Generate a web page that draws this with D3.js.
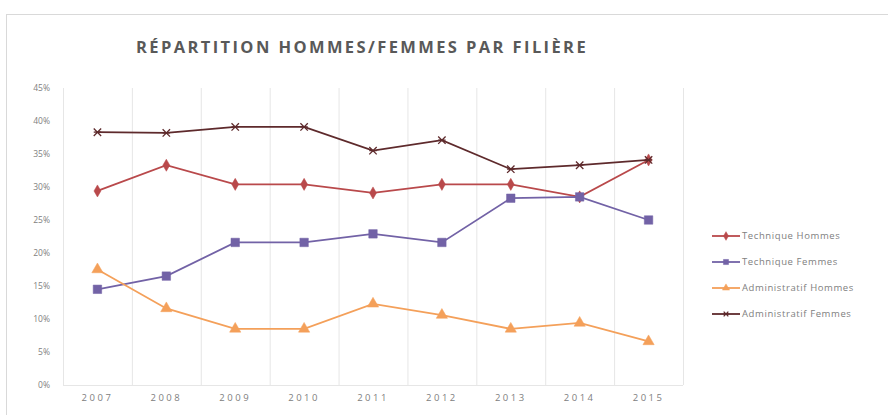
<!DOCTYPE html>
<html lang="fr">
<head>
<meta charset="utf-8">
<script src="https://d3js.org/d3.v7.min.js"></script>
<style>
body { margin: 0; background: #fff; }
text { font-family: "Open Sans", "DejaVu Sans", sans-serif; }
</style>
</head>
<body>
<div id="chart"></div>
<script>
// data
var years = ["2007", "2008", "2009", "2010", "2011", "2012", "2013", "2014", "2015"];
var techHommes = [0.294, 0.333, 0.304, 0.304, 0.291, 0.304, 0.304, 0.285, 0.341];
var techFemmes = [0.145, 0.165, 0.216, 0.216, 0.229, 0.216, 0.283, 0.285, 0.250];
var adminHommes = [0.175, 0.116, 0.085, 0.085, 0.123, 0.106, 0.085, 0.094, 0.066];
var adminFemmes = [0.383, 0.382, 0.391, 0.391, 0.355, 0.371, 0.327, 0.333, 0.341];
var seriesNames = ["Technique Hommes", "Technique Femmes", "Administratif Hommes", "Administratif Femmes"];
var yTicks = [0, 0.05, 0.10, 0.15, 0.20, 0.25, 0.30, 0.35, 0.40, 0.45];

var width = 888, height = 415;
var colors = ["#b9494b", "#7262a6", "#f4a05a", "#5e2a2c"];
var shapes = [d3.symbolDiamond, d3.symbolSquare, d3.symbolTriangle, d3.symbolCross];

var series = [techHommes, techFemmes, adminHommes, adminFemmes].map(function(v, i) {
    return { name: seriesNames[i], values: v, color: colors[i], shape: shapes[i] };
});

var svg = d3.select("#chart").append("svg")
    .attr("width", width)
    .attr("height", height);

// chart frame
svg.append("rect")
    .attr("x", 6.5).attr("y", 14.5)
    .attr("width", 900).attr("height", 420)
    .attr("fill", "#fff")
    .attr("stroke", "#d9d9d9");

var plot = { left: 63, right: 683, top: 88, bottom: 385 };

var x = d3.scaleBand().domain(years).range([plot.left, plot.right]);
var y = d3.scaleLinear().domain([0, 0.45]).range([plot.bottom, plot.top]);

// vertical category gridlines
svg.append("g")
    .selectAll("line")
    .data(years.concat(["end"]))
    .enter().append("line")
    .attr("x1", function(d, i) { return plot.left + i * x.bandwidth() + 0.5; })
    .attr("x2", function(d, i) { return plot.left + i * x.bandwidth() + 0.5; })
    .attr("y1", plot.top)
    .attr("y2", plot.bottom)
    .attr("stroke", "#e6e6e6");

svg.append("line")
    .attr("x1", plot.left).attr("x2", plot.right)
    .attr("y1", plot.bottom + 0.5).attr("y2", plot.bottom + 0.5)
    .attr("stroke", "#e6e6e6");

// y axis labels
var yAxis = svg.append("g")
    .attr("transform", "translate(" + (plot.left - 10) + ",0)")
    .call(d3.axisLeft(y).tickValues(yTicks).tickFormat(d3.format(".0%")).tickSize(0));
yAxis.select(".domain").remove();
yAxis.selectAll("text")
    .attr("fill", "#808080")
    .style("font-size", "8.5px");

// x axis labels
var xAxis = svg.append("g")
    .attr("transform", "translate(0," + (plot.bottom + 6) + ")")
    .call(d3.axisBottom(x).tickSize(0));
xAxis.select(".domain").remove();
xAxis.selectAll("text")
    .attr("fill", "#808080")
    .style("font-size", "9.5px")
    .style("letter-spacing", "2.5px");

// title
svg.append("text")
    .attr("x", 362).attr("y", 53)
    .attr("text-anchor", "middle")
    .attr("fill", "#595959")
    .style("font-size", "16.5px")
    .style("font-weight", "bold")
    .style("letter-spacing", "2.4px")
    .text("RÉPARTITION HOMMES/FEMMES PAR FILIÈRE");

var line = d3.line()
    .x(function(d, i) { return x(years[i]) + x.bandwidth() / 2; })
    .y(function(d) { return y(d); });

function marker(sel, s, size) {
    if (s.shape === d3.symbolCross) {
        // x-shaped marker
        var r = Math.sqrt(size) / 2;
        sel.append("path")
            .attr("d", "M" + (-r) + "," + (-r) + "L" + r + "," + r + "M" + (-r) + "," + r + "L" + r + "," + (-r) + "M" + (-r) + ",0L" + r + ",0")
            .attr("stroke", s.color)
            .attr("stroke-width", 1.3)
            .attr("fill", "none");
    } else {
        sel.append("path")
            .attr("d", d3.symbol().type(s.shape).size(size)())
            .attr("fill", s.color)
            .attr("stroke", s.color)
            .attr("stroke-width", 0.5);
    }
}

var g = svg.selectAll(".series")
    .data(series)
    .enter().append("g")
    .attr("class", "series");

g.append("path")
    .attr("d", function(d) { return line(d.values); })
    .attr("fill", "none")
    .attr("stroke", function(d) { return d.color; })
    .attr("stroke-width", 1.8);

g.each(function(s) {
    d3.select(this).selectAll(".pt")
        .data(s.values)
        .enter().append("g")
        .attr("class", "pt")
        .attr("transform", function(d, i) {
            return "translate(" + (x(years[i]) + x.bandwidth() / 2) + "," + y(d) + ")";
        })
        .each(function() {
            marker(d3.select(this), s, s.shape === d3.symbolSquare ? 72 : (s.shape === d3.symbolDiamond ? 42 : 55));
        });
});

// legend
var legend = svg.append("g")
    .selectAll("g")
    .data(series)
    .enter().append("g")
    .attr("transform", function(d, i) { return "translate(712," + (236 + i * 26) + ")"; });

legend.append("line")
    .attr("x1", 0).attr("x2", 28)
    .attr("stroke", function(d) { return d.color; })
    .attr("stroke-width", 1.8);

legend.append("g")
    .attr("transform", "translate(14,0)")
    .each(function(s) {
        marker(d3.select(this), s, s.shape === d3.symbolSquare ? 26 : 22);
    });

legend.append("text")
    .attr("x", 30).attr("y", 3)
    .attr("fill", "#808080")
    .style("font-size", "9.5px")
    .style("letter-spacing", "0.6px")
    .text(function(d) { return d.name; });
</script>
</body>
</html>
